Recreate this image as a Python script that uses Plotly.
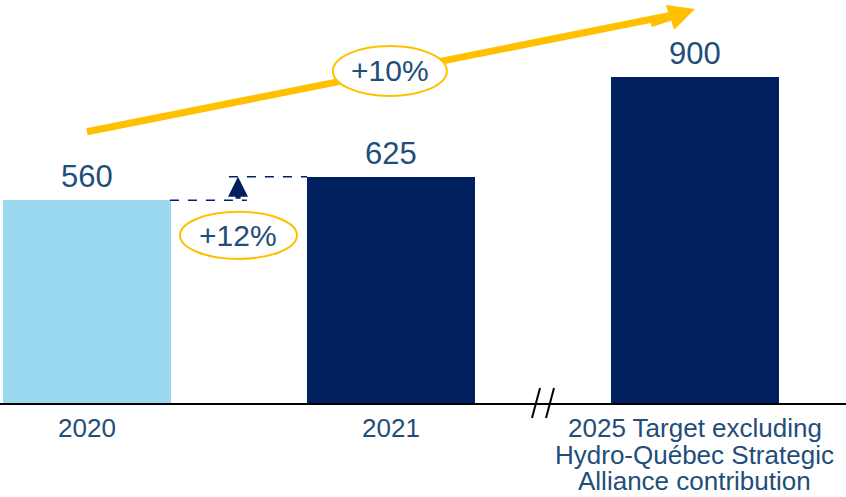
import plotly.graph_objects as go

# data
categories = ["2020", "2021", "2025 Target excluding<br>Hydro-Québec Strategic<br>Alliance contribution"]
values = [560, 625, 900]
bar_colors = ["#9BD9F1", "#002060", "#002060"]
growth_labels = ["+12%", "+10%"]

TEXT = "#1F4E79"
YELLOW = "#FFC000"
NAVY = "#002060"
FONT = "Liberation Sans, Arial, sans-serif"

x = list(range(len(categories)))

fig = go.Figure(go.Bar(
    x=x,
    y=values,
    width=0.553,
    marker=dict(color=bar_colors, line=dict(width=0)),
    hoverinfo="skip",
))

shapes = [
    # yellow trend line (head added as annotation below)
    dict(type="line", xref="x", yref="y", x0=0.0, y0=749, x1=1.96, y1=1077,
         line=dict(color=YELLOW, width=7), layer="above"),
    # ellipse for +10%, on top of the trend line
    dict(type="circle", xref="x", yref="y", x0=0.809, x1=1.184, y0=848, y1=986,
         fillcolor="white", line=dict(color=YELLOW, width=2), layer="above"),
    # dashed guides for +12%
    dict(type="line", xref="x", yref="y", x0=0.273, x1=0.526, y0=values[0], y1=values[0],
         line=dict(color=NAVY, width=1.5, dash="dash")),
    dict(type="line", xref="x", yref="y", x0=0.467, x1=0.724, y0=values[1], y1=values[1],
         line=dict(color=NAVY, width=1.5, dash="dash")),
    # ellipse around +12%
    dict(type="circle", xref="x", yref="y", x0=0.306, x1=0.691, y0=398, y1=528,
         fillcolor="white", line=dict(color=YELLOW, width=2)),
    # axis break
    dict(type="line", xref="paper", yref="paper", x0=532 / 846, x1=540 / 846, y0=-0.037, y1=0.037,
         line=dict(color="black", width=2)),
    dict(type="line", xref="paper", yref="paper", x0=546 / 846, x1=554 / 846, y0=-0.037, y1=0.037,
         line=dict(color="black", width=2)),
]

annotations = [
    # yellow arrow head
    dict(x=2.0, y=1088, ax=1.85, ay=1046, xref="x", yref="y", axref="x", ayref="y",
         text="", showarrow=True, arrowhead=2, arrowsize=0.75, arrowwidth=7, arrowcolor=YELLOW),
    # small navy arrow
    dict(x=0.497, y=values[1], ax=0.497, ay=values[0], xref="x", yref="y", axref="x", ayref="y",
         text="", showarrow=True, arrowhead=2, arrowsize=0.8, arrowwidth=5, arrowcolor=NAVY),
    dict(x=0.4985, y=463, xref="x", yref="y", text=growth_labels[0], showarrow=False,
         font=dict(size=30, color=TEXT, family=FONT)),
    dict(x=0.9965, y=917, xref="x", yref="y", text=growth_labels[1], showarrow=False,
         font=dict(size=30, color=TEXT, family=FONT)),
]

# value labels above bars
for xi, v in zip(x, values):
    annotations.append(dict(x=xi, y=v, xref="x", yref="y", text=str(v), showarrow=False,
                            yanchor="bottom", yshift=4,
                            font=dict(size=31, color=TEXT, family=FONT)))

# category labels under the axis, one line at a time for tight spacing
for xi, cat in zip(x, categories):
    for i, line in enumerate(cat.split("<br>")):
        annotations.append(dict(x=xi, y=0, xref="x", yref="paper", text=line, showarrow=False,
                                yanchor="middle", yshift=-25 - 26.5 * i,
                                font=dict(size=26, color=TEXT, family=FONT)))

fig.update_layout(
    shapes=shapes,
    annotations=annotations,
    width=846,
    height=497,
    margin=dict(l=0, r=0, t=0, b=94),
    plot_bgcolor="white",
    paper_bgcolor="white",
    showlegend=False,
    bargap=0,
    font=dict(family=FONT, color=TEXT),
    xaxis=dict(
        range=[-0.286, 2.497],
        showticklabels=False,
        showline=True, linecolor="black", linewidth=2,
        showgrid=False, zeroline=False, ticks="",
    ),
    yaxis=dict(range=[0, 1113], visible=False, showgrid=False, zeroline=False),
)

fig.write_html("out.html", config={"displayModeBar": False},
               post_script="document.body.style.margin='0';")
